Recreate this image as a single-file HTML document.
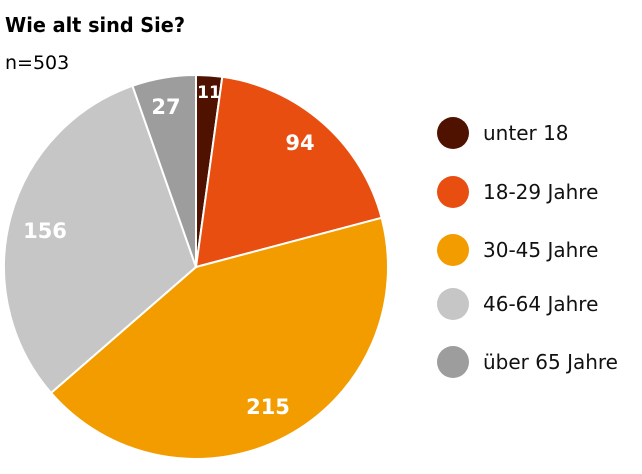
<!DOCTYPE html>
<html><head><meta charset="utf-8"><style>
body{margin:0;width:642px;height:470px;background:#fff;overflow:hidden;font-family:"DejaVu Sans","Liberation Sans",sans-serif;}
</style></head><body>
<svg id="s" width="642" height="470" xmlns="http://www.w3.org/2000/svg">
<text x="5" y="32" font-size="20" font-weight="bold" fill="#000" font-family="DejaVu Sans, Liberation Sans, sans-serif" textLength="180" lengthAdjust="spacingAndGlyphs">Wie alt sind Sie?</text>
<text x="5" y="69" font-size="19" fill="#000" font-family="DejaVu Sans, Liberation Sans, sans-serif">n=503</text>
<g id="pie"></g>
<g font-size="21" font-weight="bold" fill="#fff" text-anchor="middle" font-family="DejaVu Sans, Liberation Sans, sans-serif">
<text x="209" y="98" font-size="17">11</text>
<text x="300" y="150">94</text>
<text x="268" y="414">215</text>
<text x="45" y="238">156</text>
<text x="166" y="114">27</text>
</g>
<g font-size="20" fill="#111" font-family="DejaVu Sans, Liberation Sans, sans-serif">
<circle cx="453" cy="133" r="16" fill="#4f1200"/><text x="483" y="140">unter 18</text>
<circle cx="453" cy="192" r="16" fill="#e84e10"/><text x="483" y="199">18-29 Jahre</text>
<circle cx="453" cy="250" r="16" fill="#f39c00"/><text x="483" y="257">30-45 Jahre</text>
<circle cx="453" cy="304" r="16" fill="#c6c6c6"/><text x="483" y="311">46-64 Jahre</text>
<circle cx="453" cy="362" r="16" fill="#9d9d9d"/><text x="483" y="369">über 65 Jahre</text>
</g>
</svg>
<script>
var v=[11,94,215,156,27],c=["#4f1200","#e84e10","#f39c00","#c6c6c6","#9d9d9d"];
var cx=196,cy=267,r=192,a=0,t=503,g=document.getElementById("pie"),h="";
for(var i=0;i<5;i++){var b=a+v[i]/t*2*Math.PI;
var x1=cx+r*Math.sin(a),y1=cy-r*Math.cos(a),x2=cx+r*Math.sin(b),y2=cy-r*Math.cos(b);
h+='<path d="M'+cx+','+cy+' L'+x1+','+y1+' A'+r+','+r+' 0 '+((b-a)>Math.PI?1:0)+' 1 '+x2+','+y2+' Z" fill="'+c[i]+'" stroke="#fff" stroke-width="2" stroke-linejoin="round"/>';a=b;}
g.innerHTML=h;
</script>
</body></html>
